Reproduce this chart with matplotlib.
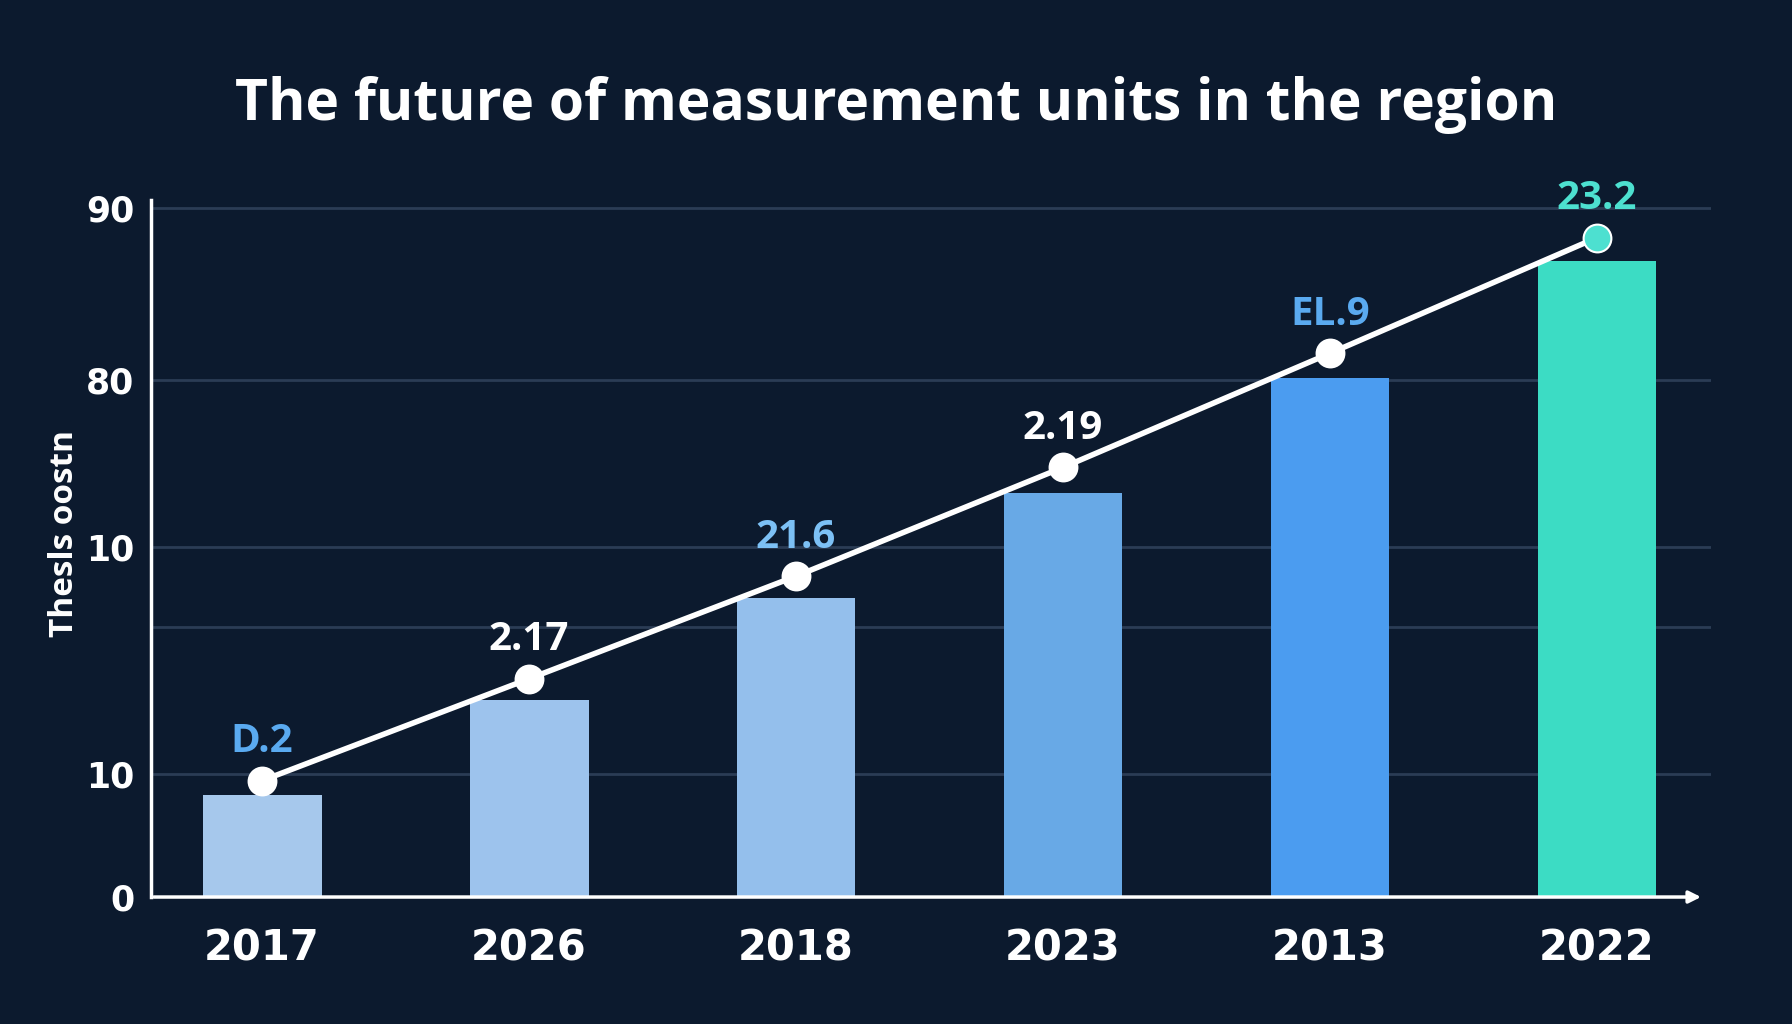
import matplotlib
matplotlib.use("Agg")
import matplotlib.pyplot as plt

# data (axis units: 0 at baseline, 90 at top gridline)
years = ["2017", "2026", "2018", "2023", "2013", "2022"]
bar_values = [13.3, 25.7, 39.1, 52.8, 67.8, 83.0]
line_values = [15.2, 28.5, 41.9, 56.1, 71.0, 86.1]
point_labels = ["D.2", "2.17", "21.6", "2.19", "EL.9", "23.2"]
tick_values = [0, 16.0, 35.2, 45.7, 67.5, 90]
tick_labels = ["0", "10", "", "10", "80", "90"]

bg = "#0c1a2e"
grid_color = "#2b3c55"
bar_colors = ["#a6c8ec", "#9dc3ed", "#94bfec", "#68a9e6", "#4b9cf0", "#3cdcc4"]
label_colors = ["#5aaaf0", "#ffffff", "#7cc0f5", "#ffffff", "#5aaaf0", "#4de0d0"]
marker_colors = ["#ffffff"] * 5 + ["#4de0d0"]

plt.rcParams["font.family"] = ["Open Sans", "DejaVu Sans"]

fig = plt.figure(figsize=(17.92, 10.24), dpi=100, facecolor=bg)
ax = fig.add_axes([0.0843, 0.124, 0.8705, 0.7105])
ax.set_facecolor(bg)

x = list(range(len(years)))
ax.set_xlim(-0.416, 5.427)
ax.set_ylim(0, 95)

for v in tick_values[1:]:
    ax.axhline(v, color=grid_color, lw=2, zorder=0)

ax.bar(x, bar_values, width=0.445, color=bar_colors, zorder=2)

ax.plot(x, line_values, color="white", lw=4, zorder=3, solid_capstyle="round")
for xi, yi, mc in zip(x, line_values, marker_colors):
    ax.plot(xi, yi, "o", ms=20, color=mc, mec="white", mew=1.5, zorder=4)

for xi, yi, lab, col in zip(x, line_values, point_labels, label_colors):
    ax.annotate(lab, (xi, yi), xytext=(0, 28), textcoords="offset points",
                ha="center", va="center", fontsize=29, fontweight="bold",
                color=col, zorder=5)

ax.set_xticks(x)
ax.set_xticklabels(years, fontsize=30, fontweight="bold", color="white",
                   family="DejaVu Sans")
ax.set_yticks(tick_values)
ax.set_yticklabels(tick_labels, fontsize=25, fontweight="bold", color="white",
                   family="DejaVu Sans")
ax.tick_params(axis="both", length=0)
ax.tick_params(axis="x", pad=22)
ax.tick_params(axis="y", pad=12)

for s in ["top", "right", "bottom"]:
    ax.spines[s].set_visible(False)
ax.spines["left"].set_color("white")
ax.spines["left"].set_linewidth(2.5)
ax.spines["left"].set_bounds(0, 91)

ax.annotate("", xy=(5.40, 0), xytext=(-0.416, 0),
            arrowprops=dict(arrowstyle="-|>", color="white", lw=2.5,
                            mutation_scale=18), zorder=6)

ax.set_ylabel("Thesls oostn", fontsize=24, fontweight="bold", color="white")
ax.yaxis.set_label_coords(-0.045, 0.5)

fig.text(0.5, 0.897, "The future of measurement units in the region",
         ha="center", va="center", fontsize=41, fontweight="bold", color="white")

fig.savefig("out.png", dpi=100, facecolor=bg)
